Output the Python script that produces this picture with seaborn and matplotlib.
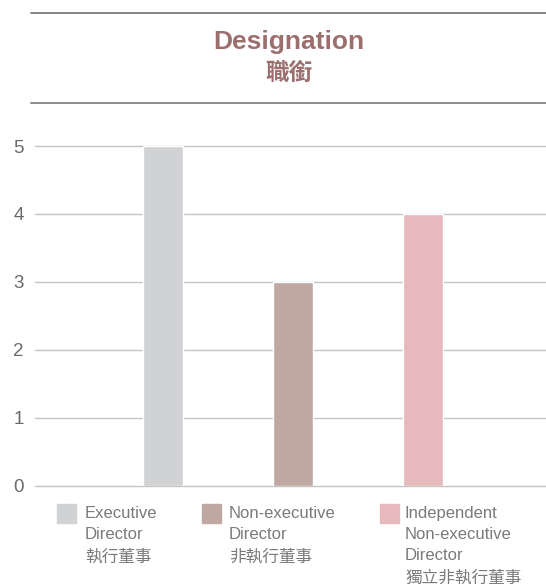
import matplotlib.pyplot as plt
import seaborn as sns
import pandas as pd
from matplotlib.patches import Rectangle
from matplotlib.lines import Line2D

# Data
categories = ['Executive Director', 'Non-executive Director', 'Independent Non-executive Director']
counts = [5, 3, 4]
legend_labels = [
    'Executive\nDirector\n執行董事',
    'Non-executive\nDirector\n非執行董事',
    'Independent\nNon-executive\nDirector\n獨立非執行董事',
]
bar_colors = ['#d1d2d4', '#bfa8a1', '#e6b9bc']
yticks = [0, 1, 2, 3, 4, 5]

sns.set_theme(style='white')
plt.rcParams['font.family'] = ['Liberation Sans', 'Noto Sans CJK TC', 'DejaVu Sans']

df = pd.DataFrame({'category': categories, 'count': counts})

fig = plt.figure(figsize=(5.46, 5.88), dpi=100)
ax = fig.add_axes([0.0641, 0.1735, 0.9359, 0.5782])

sns.barplot(data=df, x='category', y='count', hue='category',
            palette=bar_colors, width=0.31, legend=False, ax=ax,
            saturation=1, zorder=3)

ax.set_ylim(0, 5)
ax.set_xlim(-0.985, 2.946)
ax.set_yticks(yticks)
ax.set_yticklabels([str(t) for t in yticks], color='#6a6a6a', fontsize=13.5)
ax.set_xticks([])
ax.set_xlabel('')
ax.set_ylabel('')
ax.tick_params(axis='y', length=0, pad=8)
for y in yticks:
    ax.axhline(y, color='#c4c4c4', lw=1.0, zorder=1, clip_on=False)
for s in ax.spines.values():
    s.set_visible(False)

# Title block with rules
fig.add_artist(Line2D([31 / 546, 1.0], [1 - 13 / 588] * 2, color='#6e6e6e', lw=1.2))
fig.add_artist(Line2D([31 / 546, 1.0], [1 - 103 / 588] * 2, color='#8a8a8a', lw=1.4))
fig.text(289 / 546, 1 - 42 / 588, 'Designation', ha='center', va='center',
         fontsize=19, fontweight='bold', color='#9c6f6f')
fig.text(289 / 546, 1 - 73 / 588, '職銜', ha='center', va='center',
         fontsize=17, fontweight='bold', color='#9c6f6f')

# Legend
sq_x = [57, 202, 380]
txt_x = [85, 229, 405]
for i in range(3):
    fig.add_artist(Rectangle((sq_x[i] / 546, 1 - 523 / 588), 19 / 546, 19 / 588,
                             color=bar_colors[i], transform=fig.transFigure))
    fig.text(txt_x[i] / 546, 1 - 506 / 588, legend_labels[i], ha='left', va='top',
             fontsize=12, color='#7a7a7a', linespacing=1.52)

fig.savefig('out.png', dpi=100)
